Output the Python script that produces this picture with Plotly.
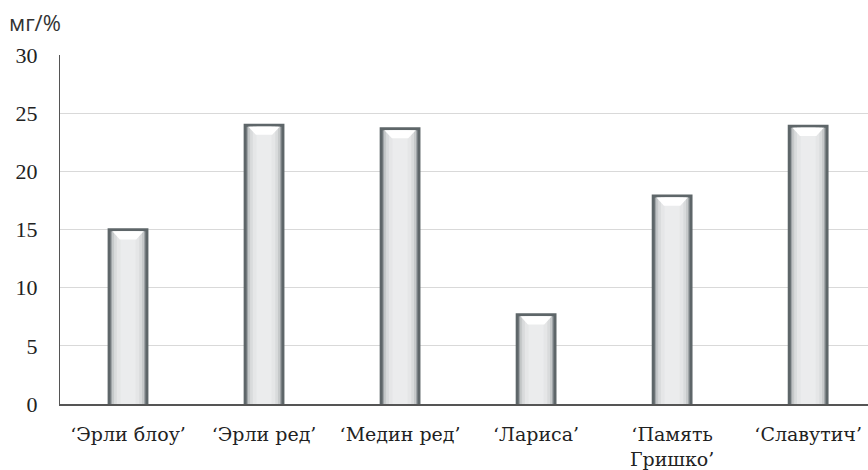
import plotly.graph_objects as go

varieties = ["‘Эрли блоу’", "‘Эрли ред’", "‘Медин ред’", "‘Лариса’", "‘Память<br>Гришко’", "‘Славутич’"]
values = [15.1, 24.1, 23.8, 7.8, 18.0, 24.0]
y_ticks = [0, 5, 10, 15, 20, 25, 30]

SERIF = "Liberation Serif, Times New Roman, DejaVu Serif, serif"
WIDE_SERIF = "DejaVu Serif, Liberation Serif, serif"
positions = list(range(len(varieties)))
edge = 0.26  # thickness of the dark column frame, in data units

fig = go.Figure()

# dark frame of each column
fig.add_trace(go.Bar(
    x=positions, y=values, width=0.30,
    marker=dict(color="#5e6669", line=dict(width=0)),
    hoverinfo="skip", showlegend=False,
))

# inner shading, lighter towards the centre
inner = [v - edge for v in values]
for color, w in [("#9ea3a6", 0.255), ("#c6c9ca", 0.235), ("#d9dbdc", 0.205),
                 ("#e5e6e7", 0.165), ("#ebeced", 0.11)]:
    fig.add_trace(go.Bar(
        x=positions, y=inner, width=w,
        marker=dict(color=color, line=dict(width=0)),
        hoverinfo="skip", showlegend=False,
    ))

# white bevel highlight under the top frame
for i, v in zip(positions, values):
    top = v - edge
    bottom = v - edge - 0.7
    fig.add_trace(go.Scatter(
        x=[i - 0.115, i + 0.115, i + 0.06, i - 0.06, i - 0.115],
        y=[top, top, bottom, bottom, top],
        mode="lines", fill="toself", fillcolor="#ffffff",
        line=dict(width=0, color="#ffffff"),
        hoverinfo="skip", showlegend=False,
    ))

fig.update_layout(
    width=868, height=470,
    margin=dict(l=60, r=0, t=55, b=66),
    barmode="overlay",
    plot_bgcolor="white", paper_bgcolor="white",
    font=dict(family=SERIF, size=20, color="#222222"),
    xaxis=dict(
        range=[-0.5, 5.44], showgrid=False, ticks="", zeroline=False,
        tickvals=positions, ticktext=varieties,
        showline=True, linecolor="#555555", linewidth=2,
        tickfont=dict(family=WIDE_SERIF, size=19, color="#222222"),
        ticklabelstandoff=12,
    ),
    yaxis=dict(
        range=[0, 30], tickvals=y_ticks, ticks="",
        showgrid=True, gridcolor="#d9d9d9", gridwidth=1,
        showline=True, linecolor="#555555", linewidth=1,
        zeroline=False, ticklabelstandoff=17,
        tickfont=dict(family=SERIF, size=22, color="#222222"),
    ),
    annotations=[dict(
        text="мг/%", xref="paper", yref="paper", x=-0.066, y=1.0,
        xanchor="left", yanchor="bottom", yshift=16, showarrow=False,
        font=dict(family="Open Sans", size=22, color="#333333"),
    )],
)

fig.write_html("out.html")
